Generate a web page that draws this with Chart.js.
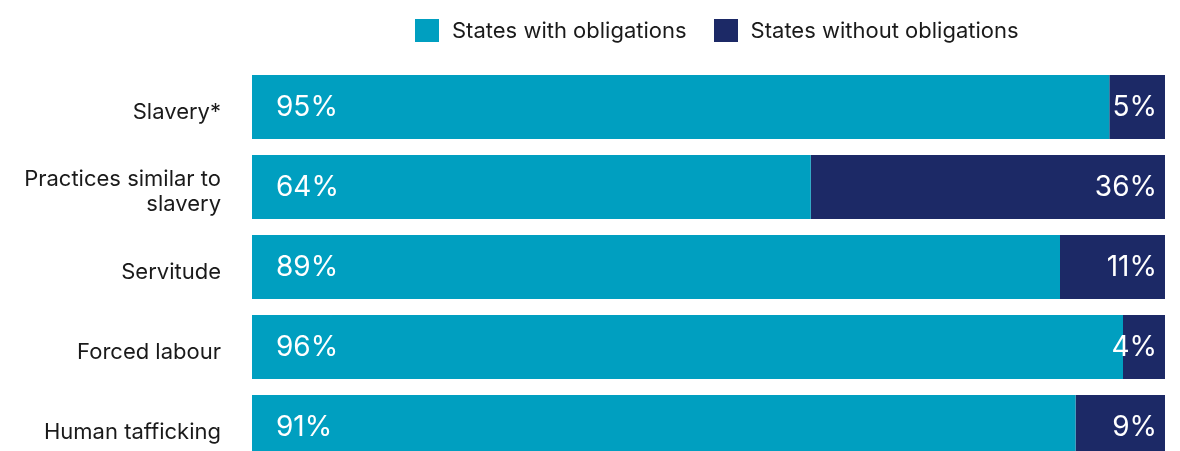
<!DOCTYPE html>
<html>
<head>
<meta charset="utf-8">
<script src="https://cdn.jsdelivr.net/npm/chart.js@4.4.1/dist/chart.umd.min.js"></script>
<style>
    html, body { margin: 0; padding: 0; background: #fff; overflow: hidden; }
    .wrap { position: relative; width: 1180px; height: 510px; }
    .legend {
        position: absolute; top: 17px; left: 415px;
        display: flex; align-items: center;
        font-family: 'Inter', sans-serif; font-size: 22px; color: #1a1a1a;
    }
    .legend .box { width: 24px; height: 23px; margin-right: 13px; }
    .legend .item { display: flex; align-items: center; margin-right: 27px; }
</style>
</head>
<body>
<div class="wrap">
    <div class="legend" id="legend"></div>
    <canvas id="chart" width="1180" height="510"></canvas>
</div>
<script>
// 카테고리 및 데이터
const categories = ['Slavery*', ['Practices similar to', 'slavery'], 'Servitude', 'Forced labour', 'Human tafficking'];
const withValues = [93.9, 61.2, 88.5, 95.4, 90.2];
const withoutValues = [6.1, 38.8, 11.5, 4.6, 9.8];
const withLabels = ['95%', '64%', '89%', '96%', '91%'];
const withoutLabels = ['5%', '36%', '11%', '4%', '9%'];
const seriesNames = ['States with obligations', 'States without obligations'];
const colors = ['#009fc0', '#1c2966'];

// HTML 범례
const legendEl = document.getElementById('legend');
seriesNames.forEach((name, i) => {
    const item = document.createElement('div');
    item.className = 'item';
    item.innerHTML = '<div class="box" style="background:' + colors[i] + '"></div><span>' + name + '</span>';
    legendEl.appendChild(item);
});

// 막대 안 값 표시
const barLabels = {
    id: 'barLabels',
    afterDatasetsDraw(chart) {
        const ctx = chart.ctx;
        ctx.save();
        ctx.fillStyle = '#ffffff';
        ctx.font = '28px Inter, sans-serif';
        ctx.textBaseline = 'middle';
        chart.getDatasetMeta(0).data.forEach((bar, i) => {
            ctx.textAlign = 'left';
            ctx.fillText(withLabels[i], bar.base + 24, bar.y + 1);
        });
        chart.getDatasetMeta(1).data.forEach((bar, i) => {
            ctx.textAlign = 'right';
            ctx.fillText(withoutLabels[i], bar.x - 8, bar.y + 1);
        });
        ctx.restore();
    }
};

new Chart(document.getElementById('chart'), {
    type: 'bar',
    data: {
        labels: categories,
        datasets: [
            { label: seriesNames[0], data: withValues, backgroundColor: colors[0], barPercentage: 0.8, categoryPercentage: 1 },
            { label: seriesNames[1], data: withoutValues, backgroundColor: colors[1], barPercentage: 0.8, categoryPercentage: 1 }
        ]
    },
    options: {
        indexAxis: 'y',
        responsive: false,
        animation: false,
        layout: { padding: { top: 67, bottom: 3, left: 0, right: 15 } },
        scales: {
            x: { stacked: true, display: false, min: 0, max: 100 },
            y: {
                stacked: true,
                grid: { display: false, drawTicks: false },
                border: { display: false },
                ticks: {
                    color: '#1a1a1a',
                    padding: 31,
                    labelOffset: 5,
                    font: { family: 'Inter, sans-serif', size: 22, lineHeight: 1.1 }
                },
                afterFit(scale) { scale.width = 252; }
            }
        },
        plugins: {
            legend: { display: false },
            tooltip: { enabled: false }
        }
    },
    plugins: [barLabels]
});
</script>
</body>
</html>
